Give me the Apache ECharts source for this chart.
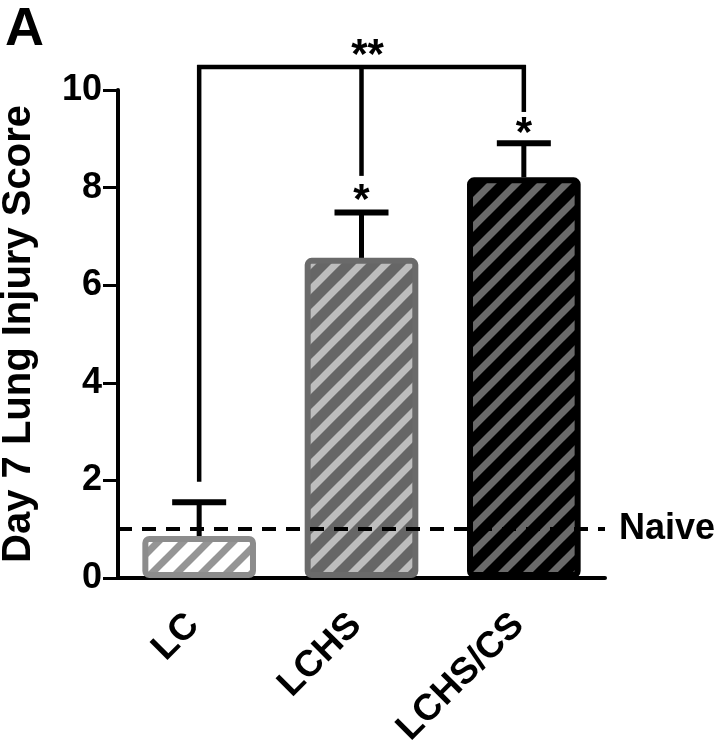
<!DOCTYPE html>
<html>
<head>
<meta charset="utf-8">
<script src="https://cdn.jsdelivr.net/npm/echarts@6/dist/echarts.min.js"></script>
<style>
html, body { margin: 0; padding: 0; background: #fff; }
#container { width: 720px; height: 750px; }
</style>
</head>
<body>
<div id="container"></div>
<script>
// values
var categories = ['LC', 'LCHS', 'LCHS/CS'];
var means = [0.86, 6.56, 8.21];
var errTops = [1.55, 7.49, 8.91];
var naiveLevel = 1;
var yTicks = [0, 2, 4, 6, 8, 10];

// significance bracket
var bracketTop = 10.47;
var bracketEnds = [1.97, 8.24, 9.55];
var starText = ['', '*', '*'];
var starLevels = [0, 7.72, 9.08];
var topStarText = '**';
var topStarLevel = 10.68;

var FONT = 'Liberation Sans, Arial, sans-serif';

var stripes = function(bg, fg){
    var P = 25;
    var c = document.createElement('canvas');
    c.width = P; c.height = P;
    var ctx = c.getContext('2d');
    ctx.fillStyle = bg;
    ctx.fillRect(0, 0, P, P);
    ctx.strokeStyle = fg;
    ctx.lineWidth = 7;
    for (var k = -1; k <= 2; k++) {
        var o = k * P;
        ctx.beginPath();
        ctx.moveTo(o + P, -P);
        ctx.lineTo(o - 2 * P, 2 * P);
        ctx.stroke();
    }
    return { image: c, repeat: 'repeat' };
};

var barStyles = [
    { color: stripes('#ffffff', '#959595'), borderColor: '#8c8c8c' },
    { color: stripes('#666666', '#bdbdbd'), borderColor: '#6a6a6a' },
    { color: stripes('#000000', '#6a6a6a'), borderColor: '#000000' }
];

var barData = means.map(function(v, i){
    return {
        value: v,
        itemStyle: {
            color: barStyles[i].color,
            borderColor: barStyles[i].borderColor,
            borderWidth: 6,
            borderRadius: 4
        }
    };
});

var errData = means.map(function(v, i){ return [i, v, errTops[i]]; });
var bracketData = bracketEnds.map(function(v, i){ return [i, v]; });
var starData = starLevels.map(function(v, i){ return [i, v]; });

var dom = document.querySelector('#container');
var myChart = echarts.init(dom);

var option = {
    animation: false,
    backgroundColor: '#fff',
    grid: { left: 118, right: 115, top: 90, bottom: 172, outerBoundsMode: 'none', containLabel: false },
    graphic: [{
        type: 'text', left: 5, top: 3,
        style: { text: 'A', font: 'bold 54px ' + FONT, fill: '#000' }
    }],
    xAxis: {
        type: 'category',
        data: categories,
        axisLine: { lineStyle: { color: '#000', width: 4 } },
        axisTick: { show: false },
        axisLabel: {
            rotate: 45, margin: 36, color: '#000', padding: [0, 8, 0, 0],
            fontSize: 37, fontWeight: 'bold', fontFamily: FONT
        }
    },
    yAxis: {
        type: 'value',
        min: yTicks[0], max: yTicks[yTicks.length - 1], interval: 2,
        name: 'Day 7 Lung Injury Score',
        nameLocation: 'middle',
        nameGap: 79,
        nameTextStyle: { color: '#000', fontSize: 40, fontWeight: 'bold', fontFamily: FONT },
        axisLine: { show: true, lineStyle: { color: '#000', width: 4 } },
        axisTick: { show: true, length: 15, lineStyle: { color: '#000', width: 3 } },
        splitLine: { show: false },
        axisLabel: { color: '#000', fontSize: 36, fontWeight: 'bold', fontFamily: FONT, margin: 16 }
    },
    series: [{
        type: 'line',
        data: [],
        z: 1,
        markLine: {
            silent: true,
            symbol: 'none',
            lineStyle: { color: '#000', width: 4, type: [14, 10] },
            label: {
                position: 'end', distance: 14, formatter: 'Naive',
                color: '#000', fontSize: 36, fontWeight: 'bold', fontFamily: FONT
            },
            data: [{ yAxis: naiveLevel }]
        }
    }, {
        type: 'bar',
        data: barData,
        barWidth: '70%',
        z: 2
    }, {
        type: 'custom',
        data: errData,
        z: 3,
        clip: false,
        renderItem: function(params, api){
            var i = api.value(0);
            var base = api.coord([i, api.value(1)]);
            var top = api.coord([i, api.value(2)]);
            var half = 27;
            return { type: 'group', children: [
                { type: 'line', shape: { x1: base[0], y1: base[1], x2: top[0], y2: top[1] },
                  style: { stroke: '#000', lineWidth: 5 } },
                { type: 'line', shape: { x1: top[0] - half, y1: top[1], x2: top[0] + half, y2: top[1] },
                  style: { stroke: '#000', lineWidth: 6 } }
            ]};
        }
    }, {
        type: 'custom',
        data: bracketData,
        z: 3,
        clip: false,
        renderItem: function(params, api){
            var i = api.value(0);
            var end = api.coord([i, api.value(1)]);
            var top = api.coord([i, bracketTop]);
            var kids = [{ type: 'line', shape: { x1: end[0], y1: end[1], x2: top[0], y2: top[1] - 2 },
                          style: { stroke: '#000', lineWidth: 4.5 } }];
            if (params.dataIndex === 0) {
                var right = api.coord([bracketData.length - 1, bracketTop]);
                kids.push({ type: 'line', shape: { x1: top[0] - 2, y1: top[1], x2: right[0] + 2, y2: right[1] },
                            style: { stroke: '#000', lineWidth: 4.5 } });
                var mid = api.coord([1, topStarLevel]);
                kids.push({ type: 'text', x: mid[0] + 6, y: mid[1],
                            style: { text: topStarText, font: 'bold 42px ' + FONT, fill: '#000',
                                     align: 'center', verticalAlign: 'middle' } });
            }
            return { type: 'group', children: kids };
        }
    }, {
        type: 'custom',
        data: starData,
        z: 3,
        clip: false,
        renderItem: function(params, api){
            var p = api.coord([api.value(0), api.value(1)]);
            return { type: 'text', x: p[0], y: p[1],
                     style: { text: starText[params.dataIndex], font: 'bold 42px ' + FONT, fill: '#000',
                              align: 'center', verticalAlign: 'middle' } };
        }
    }]
};

myChart.setOption(option);
</script>
</body>
</html>
